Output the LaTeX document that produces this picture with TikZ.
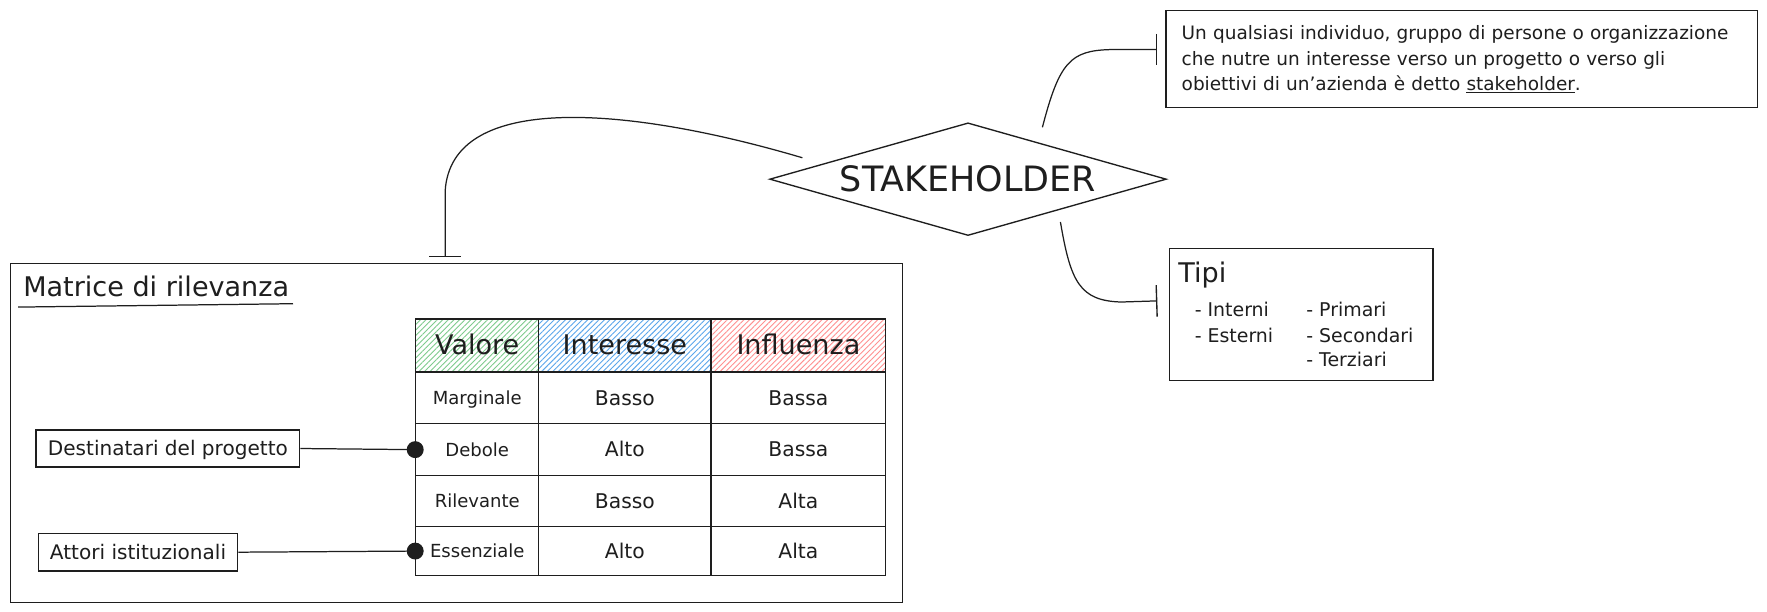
\documentclass[tikz,border=0pt]{standalone}
\usepackage{fontspec}
\setmainfont{DejaVu Sans}
\usetikzlibrary{arrows.meta,shapes.geometric,patterns.meta}
\definecolor{ink}{HTML}{1E1E1E}
\definecolor{hgreen}{HTML}{7DCB8C}
\definecolor{hblue}{HTML}{5AA6EC}
\definecolor{hred}{HTML}{FF9090}
\begin{document}
\begin{tikzpicture}[x=1pt,y=-1pt,
  every node/.style={text=ink},
  box/.style={draw=ink, line width=1.2pt, inner sep=0pt},
  link/.style={draw=ink, line width=1.1pt},
  barend/.style={-{Bar[width=28pt,line width=1.2pt]}},
  dotend/.style={-{Circle[length=15pt,width=15pt]}, shorten >=-7.5pt},
  cell/.style={draw=ink, line width=1.1pt, inner sep=0pt, text depth=0pt},
  hdr/.style={cell, minimum height=47pt, font=\fontsize{24}{28}\selectfont, text height=17pt},
  smalltext/.style={cell, font=\fontsize{16}{19}\selectfont, text height=11.7pt},
  valtext/.style={cell, font=\fontsize{18}{22}\selectfont, text height=13pt},
  hatch/.style={pattern={Lines[angle=45,distance=3.5pt,line width=0.8pt]}, pattern color=#1},
  item/.style={anchor=base west, inner sep=0pt, font=\fontsize{16.8}{20}\selectfont},
]
\fill[white] (0,0) rectangle (1568,543);
\useasboundingbox (0,0) rectangle (1568,543);

% central diamond
\node[draw=ink, line width=1.2pt, diamond, aspect=3.5, inner sep=0pt,
      minimum width=352pt, minimum height=100pt,
      font=\fontsize{31}{36}\selectfont] (stake) at (859,159) {STAKEHOLDER};

% definition box
\node[box, anchor=north west, minimum width=525pt, minimum height=86pt,
      inner xsep=14pt, text width=497pt, align=left,
      font=\fontsize{16.4}{22.7}\selectfont] (def) at (1034,9)
  {\mbox{Un qualsiasi individuo, gruppo di persone o organizzazione}\\
   \mbox{che nutre un interesse verso un progetto o verso gli}\\
   \mbox{obiettivi di un'azienda è detto \underline{stakeholder}.}};

% tipi box
\node[box, anchor=north west, minimum width=234pt, minimum height=117pt] (tipi) at (1037,220) {};
\node[anchor=base west, inner sep=0pt, font=\fontsize{24}{28}\selectfont] (tipititle) at (1045.5,251) {Tipi};
\node[item] (ti1) at (1060,281) {- Interni};
\node[item] (ti2) at (1060,303.5) {- Esterni};
\node[item] (ti3) at (1159,281) {- Primari};
\node[item] (ti4) at (1159,303.5) {- Secondari};
\node[item] (ti5) at (1159,325.5) {- Terziari};

% matrix box
\node[box, anchor=north west, minimum width=791pt, minimum height=301pt] (mbox) at (9,233) {};
\node[anchor=base west, inner sep=0pt, font=\fontsize{24}{28}\selectfont] (mtitle) at (20.5,263) {Matrice di rilevanza};
\draw[link] (16,272.5) -- (260,269.5);

% table header
\node[hdr, hatch=hgreen, minimum width=109pt] (h1) at (423.5,306.5) {Valore};
\node[hdr, hatch=hblue, minimum width=153pt] (h2) at (554.5,306.5) {Interesse};
\node[hdr, hatch=hred, minimum width=155pt] (h3) at (708.5,306.5) {Influenza};
% row 1
\node[smalltext, minimum width=109pt, minimum height=46pt] (m11) at (423.5,353) {Marginale};
\node[valtext, minimum width=153pt, minimum height=46pt] (m12) at (554.5,353) {Basso};
\node[valtext, minimum width=155pt, minimum height=46pt] (m13) at (708.5,353) {Bassa};
% row 2
\node[smalltext, minimum width=109pt, minimum height=46pt] (m21) at (423.5,399) {Debole};
\node[valtext, minimum width=153pt, minimum height=46pt] (m22) at (554.5,399) {Alto};
\node[valtext, minimum width=155pt, minimum height=46pt] (m23) at (708.5,399) {Bassa};
% row 3
\node[smalltext, minimum width=109pt, minimum height=45pt] (m31) at (423.5,444.5) {Rilevante};
\node[valtext, minimum width=153pt, minimum height=45pt] (m32) at (554.5,444.5) {Basso};
\node[valtext, minimum width=155pt, minimum height=45pt] (m33) at (708.5,444.5) {Alta};
% row 4
\node[smalltext, minimum width=109pt, minimum height=44pt] (m41) at (423.5,489) {Essenziale};
\node[valtext, minimum width=153pt, minimum height=44pt] (m42) at (554.5,489) {Alto};
\node[valtext, minimum width=155pt, minimum height=44pt] (m43) at (708.5,489) {Alta};

% left boxes
\node[box, minimum width=234pt, minimum height=33pt, text height=13pt, text depth=0pt,
      font=\fontsize{17.8}{21}\selectfont] (dest) at (149,398) {Destinatari del progetto};
\node[box, minimum width=177pt, minimum height=33.5pt, text height=13pt, text depth=0pt,
      font=\fontsize{17.8}{21}\selectfont] (att) at (122.5,490) {Attori istituzionali};

% free connector ends
\coordinate (sL) at (712,140);
\coordinate (mT) at (395,228);
\coordinate (sU) at (925,113);
\coordinate (dT) at (1027,44);
\coordinate (sD) at (941,197);
\coordinate (tT) at (1027,267);

% connectors
\draw[link, barend] (sL) .. controls (560,95) and (400,80) .. (395,170) -- (mT);
\draw[link, barend] (sU) .. controls (940,55) and (950,45) .. (985,44) -- (dT);
\draw[link, barend] (sD) .. controls (950,250) and (958,267) .. (995,268) -- (tT);
\draw[link, dotend] (dest.east) -- (m21.west);
\draw[link, dotend] (att.east) -- (m41.west);
\end{tikzpicture}
\end{document}
